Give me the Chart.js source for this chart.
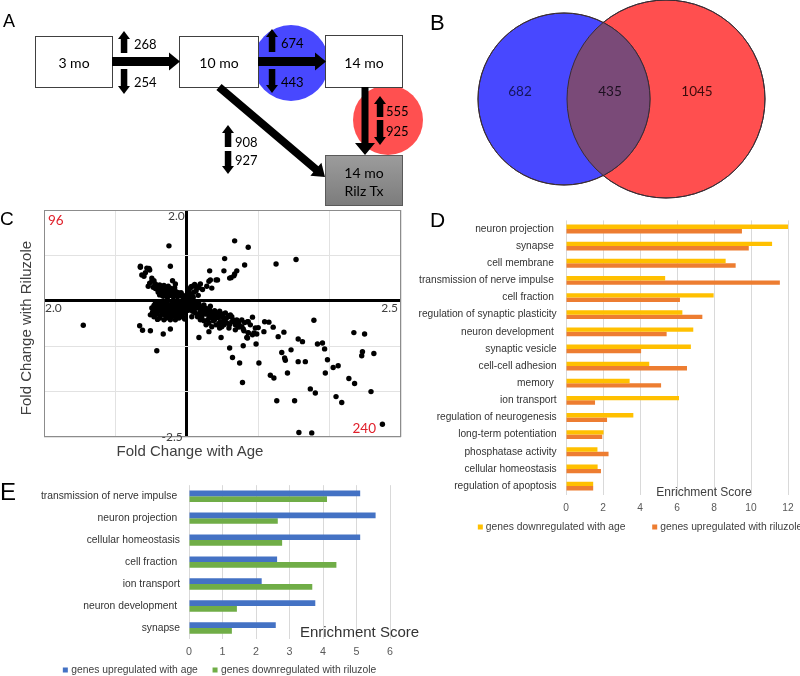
<!DOCTYPE html>
<html>
<head>
<meta charset="utf-8">
<title>Gene expression with age and riluzole</title>
<script src="https://cdn.jsdelivr.net/npm/chart.js@4.4.1/dist/chart.umd.min.js"></script>
<style>
  html, body { margin: 0; padding: 0; background: #fff; }
  body { position: relative; width: 800px; height: 676px; overflow: hidden;
         font-family: "Liberation Sans", Arial, sans-serif; }
  canvas, svg, .txt { position: absolute; }
  .txt { line-height: 1; color: #000; white-space: nowrap; }
  .axis-title { font-size: 15px; line-height: 18px; color: #404040; text-align: center; }
</style>
</head>
<body>
<canvas id="chartC" width="420" height="246" style="left:0;top:200px"></canvas>
<canvas id="chartD" width="480" height="340" style="left:400px;top:205px"></canvas>
<canvas id="chartE" width="440" height="206" style="left:0;top:470px"></canvas>
<canvas id="venn" width="380" height="200" style="left:420px;top:0"></canvas>
<svg id="diagram" width="430" height="212" style="left:0;top:0"></svg>

<div class="txt axis-title" style="left:-93.8px;top:319px;width:240px;transform:rotate(-90deg)">Fold Change with Riluzole</div>
<div class="txt axis-title" style="left:90px;top:441.5px;width:200px">Fold Change with Age</div>

<div class="txt" style="left:3px;top:11.8px;font-size:18px">A</div>
<div class="txt" style="left:430px;top:12.4px;font-size:22px">B</div>
<div class="txt" style="left:0;top:209.4px;font-size:19px">C</div>
<div class="txt" style="left:430px;top:208.9px;font-size:21px">D</div>
<div class="txt" style="left:0;top:479.7px;font-size:24px">E</div>

<script>
// ---------- data ----------
// panel A: number of genes up / down for each comparison
const stages = ['3 mo', '10 mo', '14 mo', '14 mo|Rilz Tx'];
const upCounts = [268, 674, 555, 908];
const downCounts = [254, 443, 925, 927];

// panel B: overlap of gene sets
const vennSets = ['changed with age', 'changed with riluzole'];
const vennOnly = [682, 1045];
const vennShared = 435;

// panel C: fold change per gene
const foldAge = [
  -0.25, -0.23, -0.65, -0.53, -1.45, -0.66, -0.62, -0.51, -0.33, -0.23, -0.42,
  0.67, 0.86, 0.53, 0.81, 1.25, 1.53, 0.32, 0.52, 0.70, 0.62, 0.66, 0.43,
  0.17, 0.31, 0.48, 0.60, 0.64, 0.74, 0.79, 0.78, 0.84, 0.86, 0.94, 0.98, 0.97, 1.00, 1.08, 1.09, 1.15, 1.21, 1.28, 1.36, 1.01, 1.17, 1.22, 1.26, 1.33, 1.37, 1.38, 1.41, 1.46, 1.56, 1.62, 1.56, 1.66, 1.51, 1.57, 1.75, 1.78, 1.83, 1.90, 1.93, 1.97, 1.94, 2.05, 2.12, 2.09, 2.17, 1.73, 1.80, 2.27, 2.35, 2.34, 2.49, 2.46, 2.45, 2.62, 2.58, 2.74,
  0.60, 0.65, 0.72, 0.77, 0.81, 0.86, 0.92, 0.85,
  -0.65, -0.56, -0.52, -0.63, -0.60, -0.49, -0.46, -0.52, -0.54, -0.44, -0.42, -0.38, -0.35, -0.32, -0.30, -0.26, -0.23, -0.21, -0.18, -0.16, -0.14, -0.11, -0.37, -0.35, -0.31, -0.28, -0.25, -0.21, -0.20, -0.17, -0.38, -0.35, -0.30, -0.26, -0.23, -0.18, -0.14, -0.09, -0.07, -0.04, -0.42, -0.49, -0.16,
  0.03, 0.05, 0.08, 0.12, 0.14, 0.17, 0.04, 0.07, 0.10, 0.02, 0.31, 0.33, 0.28, 0.35, 0.41, 0.67, 0.60,
  -0.49, -0.45, -0.42, -0.37, -0.35, -0.31, -0.28, -0.24, -0.21, -0.17, -0.14, -0.10, -0.07, -0.04, -0.32, -0.29, -0.25, -0.21, -0.18, -0.15, -0.11, -0.07, -0.04, -0.35, -0.31, -0.26, -0.21, -0.16, -0.11, -0.06, -0.51, -0.46, -0.42, -0.38, -0.23, -0.32, -0.16, -0.09, -0.04, -0.40, -0.48, -0.44, -0.39, -0.28, -0.20, -0.12, -0.09,
  0.03, 0.07, 0.10, 0.13, 0.17, 0.05, 0.10, 0.14, 0.18, 0.21, 0.25, 0.28, 0.32, 0.35, 0.39, 0.42, 0.46, 0.49, 0.54, 0.58, 0.61, 0.12, 0.17, 0.21, 0.26, 0.31, 0.35, 0.39, 0.44, 0.47, 0.52, 0.56, 0.63, 0.68, 0.73, 0.77, 0.85, 0.89, 0.96, 0.24, 0.31, 0.41, 0.49, 0.59, 0.68, 0.80, 0.86, 0.92, 0.07, 0.19, 0.35, 0.27, 0.04, 0.08, 0.24, 0.33, 0.40, 0.52, 0.63, 0.70,
  -0.47, -0.44, -0.40, -0.36, -0.33, -0.29, -0.27, -0.24, -0.22, -0.19, -0.15, -0.12, -0.10, -0.08, -0.06, -0.40, -0.34, -0.28, -0.24, -0.19, -0.13, -0.33, -0.27, -0.45, -0.58,
  -0.46, -0.41, -0.36, -0.33, -0.30, -0.27, -0.23, -0.19, -0.13, -0.08, -0.05, -0.02, -0.44, -0.37, -0.34, -0.27, -0.18, -0.14, -0.09, -0.03, -0.41, -0.29, -0.24, -0.13, -0.06,
  0.02, 0.06, 0.09, 0.12, 0.15, 0.19, 0.23, 0.27, 0.30, 0.34, 0.37, 0.41, 0.44, 0.48, 0.51, 0.55, 0.02, 0.08, 0.15, 0.22, 0.29, 0.37, 0.45, 0.53, 0.60, 0.66, 0.72, 0.79, 0.14, 0.46,
  0.04, 0.09, 0.13, 0.06, 0.11, 0.19, 0.22, 0.16
];
const foldRiluzole = [
  1.21, 0.76, 0.76, 0.71, -0.54, -0.55, -0.65, -0.66, -0.73, -0.62, -1.10,
  1.32, 1.18, 0.93, 0.79, 0.81, 0.91, 0.66, 0.66, 0.66, 0.51, 0.55, 0.46,
  -0.81, -0.68, -0.81, -1.04, -1.25, -1.37, -0.99, -1.80, -0.81, -0.70, -0.71, -0.73, -0.95, -0.59, -0.68, -0.46, -0.47, -0.58, -0.79, -0.69, -1.37, -1.64, -1.70, -2.20, -1.14, -1.26, -1.31, -1.59, -1.08, -0.84, -0.90, -1.34, -1.34, -2.20, -2.90, -2.91, -0.43, -0.95, -0.93, -1.06, -1.30, -1.59, -1.47, -1.43, -2.11, -2.24, -1.94, -2.03, -1.71, -1.82, -0.70, -0.73, -1.12, -1.21, -1.16, -2.00, -2.72,
  -0.33, -0.42, -0.46, -0.42, -0.48, -0.46, -0.36, -0.82,
  0.74, 0.72, 0.68, 0.57, 0.54, 0.50, 0.44, 0.39, 0.32, 0.37, 0.32, 0.35, 0.29, 0.34, 0.28, 0.32, 0.28, 0.24, 0.21, 0.19, 0.17, 0.15, 0.24, 0.21, 0.22, 0.19, 0.24, 0.17, 0.44, 0.29, 0.13, 0.13, 0.15, 0.13, 0.12, 0.13, 0.13, 0.15, 0.10, 0.06, 0.26, 0.43, 0.37,
  0.24, 0.28, 0.32, 0.34, 0.28, 0.29, 0.17, 0.13, 0.19, 0.10, 0.43, 0.46, 0.32, 0.28, 0.46, 0.59, 0.50,
  -0.16, -0.20, -0.15, -0.09, -0.05, -0.07, -0.03, -0.09, -0.05, -0.01, -0.07, -0.03, -0.05, -0.09, -0.16, -0.22, -0.16, -0.20, -0.15, -0.20, -0.16, -0.23, -0.27, -0.27, -0.31, -0.29, -0.35, -0.32, -0.38, -0.35, -0.31, -0.35, -0.29, -0.38, -0.42, -0.42, -0.42, -0.27, -0.18, -0.22, -0.25, -0.05, -0.12, -0.12, -0.25, -0.29, -0.12,
  -0.03, -0.07, -0.05, -0.09, -0.07, -0.16, -0.20, -0.16, -0.15, -0.20, -0.16, -0.23, -0.20, -0.25, -0.22, -0.27, -0.23, -0.29, -0.27, -0.35, -0.31, -0.27, -0.31, -0.35, -0.29, -0.35, -0.38, -0.42, -0.37, -0.46, -0.42, -0.49, -0.46, -0.53, -0.49, -0.57, -0.46, -0.53, -0.60, -0.44, -0.49, -0.53, -0.57, -0.60, -0.64, -0.66, -0.71, -0.75, -0.35, -0.42, -0.57, -0.53, 0.02, -0.12, -0.09, -0.12, -0.35, -0.53, -0.35, -0.42,
  0.30, 0.27, 0.30, 0.31, 0.26, 0.25, 0.23, 0.20, 0.18, 0.16, 0.20, 0.18, 0.12, 0.18, 0.13, 0.19, 0.17, 0.10, 0.16, 0.09, 0.09, 0.10, 0.08, 0.33, 0.62,
  -0.10, -0.03, -0.19, -0.11, -0.14, -0.19, -0.12, -0.09, -0.12, -0.19, -0.13, -0.03, -0.30, -0.33, -0.23, -0.36, -0.28, -0.36, -0.32, -0.40, -0.41, -0.38, -0.26, -0.24, -0.06,
  -0.10, -0.12, -0.02, -0.13, -0.11, -0.24, -0.26, -0.17, -0.27, -0.29, -0.30, -0.32, -0.29, -0.34, -0.36, -0.39, -0.21, -0.23, -0.35, -0.13, -0.43, -0.44, -0.50, -0.47, -0.52, -0.45, -0.58, -0.62, -0.02, -0.60,
  0.05, 0.08, 0.22, 0.31, 0.36, 0.37, 0.25, 0.12
];
const quadrantCounts = [96, 240];
const ageTickLabels = ['2.0', '2.5'];        // left end, right end
const riluzoleTickLabels = ['2.0', '-2.5'];  // top end, bottom end

// panel D
const termsD = ['neuron projection ', 'synapse ', 'cell membrane ', 'transmission of nerve impulse ', 'cell fraction ',
  'regulation of synaptic plasticity', 'neuron development ', 'synaptic vesicle', 'cell-cell adhesion', 'memory ',
  'ion transport', 'regulation of neurogenesis', 'long-term potentiation', 'phosphatase activity',
  'cellular homeostasis', 'regulation of apoptosis'];
const downWithAge = [12.05, 11.14, 8.63, 5.36, 7.98, 6.29, 6.88, 6.75, 4.50, 3.44, 6.11, 3.64, 2.03, 1.70, 1.71, 1.47];
const upWithRiluzole = [9.51, 9.88, 9.17, 11.56, 6.16, 7.37, 5.44, 4.06, 6.54, 5.14, 1.57, 2.22, 1.96, 2.30, 1.89, 1.47];
const ticksD = [0, 2, 4, 6, 8, 10, 12];

// panel E
const termsE = ['transmission of nerve impulse ', 'neuron projection ', 'cellular homeostasis', 'cell fraction ',
  'ion transport', 'neuron development ', 'synapse'];
const upWithAge = [5.11, 5.57, 5.11, 2.63, 2.17, 3.77, 2.59];
const downWithRiluzole = [4.12, 2.65, 2.78, 4.40, 3.68, 1.43, 1.28];
const ticksE = [0, 1, 2, 3, 4, 5, 6];

// ---------- panel A: flow diagram ----------
const boxLayout = [
  {x: 35.5, y: 36.5, w: 77, h: 51},
  {x: 179.5, y: 36.5, w: 79, h: 51},
  {x: 325.5, y: 35.5, w: 77, h: 52},
  {x: 325.5, y: 155.5, w: 77, h: 50, shaded: true}
];
const flowArrows = [
  [112, 61.5, 180, 61.5, 9, 18, 11],
  [258, 61.5, 326, 61.5, 9, 18, 11],
  [365, 87, 365, 155, 7, 20, 12],
  [219, 87, 325, 177, 8, 17, 12]
];
const countLayout = [
  {ax: 124, up: [53, 31], down: [69, 94], tx: 134, ty: [43.5, 81.5]},
  {ax: 272, up: [52, 29], down: [69, 93], tx: 281, ty: [43, 81.5]},
  {ax: 380, up: [117, 96], down: [120, 145], tx: 386, ty: [111, 130.5]},
  {ax: 228, up: [147, 125], down: [151, 174], tx: 235, ty: [142, 160]}
];

function arrow(x1, y1, x2, y2, shaft, headW, headL) {
  const len = Math.hypot(x2 - x1, y2 - y1);
  const ux = (x2 - x1) / len, uy = (y2 - y1) / len;
  const nx = -uy, ny = ux;
  const bx = x2 - ux * headL, by = y2 - uy * headL;
  const s = shaft / 2, h = headW / 2;
  const pts = [
    [x1 + nx * s, y1 + ny * s], [bx + nx * s, by + ny * s], [bx + nx * h, by + ny * h], [x2, y2],
    [bx - nx * h, by - ny * h], [bx - nx * s, by - ny * s], [x1 - nx * s, y1 - ny * s]
  ];
  return `<polygon points="${pts.map(p => p[0].toFixed(1) + ',' + p[1].toFixed(1)).join(' ')}" fill="#000"/>`;
}

let svg = `<defs><linearGradient id="rilzFill" x1="0" y1="0" x2="0" y2="1">
  <stop offset="0" stop-color="#9c9c9c"/><stop offset="1" stop-color="#7c7c7c"/></linearGradient></defs>
  <circle cx="291" cy="63" r="38" fill="#4848ff"/>
  <circle cx="388" cy="120" r="35" fill="#ff5050"/>`;
stages.forEach((name, i) => {
  const b = boxLayout[i];
  svg += `<rect x="${b.x}" y="${b.y}" width="${b.w}" height="${b.h}" fill="${b.shaded ? 'url(#rilzFill)' : '#fff'}" stroke="${b.shaded ? '#5a5a5a' : '#404040'}"/>`;
  const lines = name.split('|');
  const cx = b.x + b.w / 2, cy = b.y + b.h / 2 + 0.5;
  lines.forEach((ln, j) => {
    const y = lines.length === 1 ? cy : cy - 9 + j * 18.5;
    svg += `<text x="${cx}" y="${y}" font-family="Lato, sans-serif" font-size="14" text-anchor="middle" dominant-baseline="central">${ln}</text>`;
  });
});
flowArrows.forEach(a => { svg += arrow(...a); });
countLayout.forEach((c, i) => {
  svg += arrow(c.ax, c.up[0], c.ax, c.up[1], 6.5, 12, 8);
  svg += arrow(c.ax, c.down[0], c.ax, c.down[1], 6.5, 12, 8);
  svg += `<text x="${c.tx}" y="${c.ty[0]}" font-family="Lato, sans-serif" font-size="13" dominant-baseline="central">${upCounts[i]}</text>`;
  svg += `<text x="${c.tx}" y="${c.ty[1]}" font-family="Lato, sans-serif" font-size="13" dominant-baseline="central">${downCounts[i]}</text>`;
});
document.getElementById('diagram').innerHTML = svg;

// ---------- shared chart bits ----------
Chart.defaults.font.family = '"Liberation Sans", Arial, sans-serif';
Chart.defaults.animation = false;
Chart.defaults.events = [];

function makeLegend(cfg) {
  return {
    id: 'bottomLegend',
    afterDraw(chart) {
      const {ctx, chartArea} = chart;
      const sets = chart.data.datasets;
      ctx.save();
      ctx.font = cfg.size + 'px "Liberation Sans", Arial, sans-serif';
      const widths = sets.map(ds => cfg.box + cfg.textGap + ctx.measureText(ds.label).width);
      const total = widths.reduce((a, b) => a + b, 0) + cfg.gap * (sets.length - 1);
      let x = cfg.centerX - total / 2;
      const y = chartArea.bottom + cfg.offsetY;
      ctx.textBaseline = 'middle';
      sets.forEach((ds, i) => {
        ctx.fillStyle = ds.backgroundColor;
        ctx.fillRect(x, y - cfg.box / 2, cfg.box, cfg.box);
        ctx.fillStyle = cfg.color;
        ctx.fillText(ds.label, x + cfg.box + cfg.textGap, y);
        x += widths[i] + cfg.gap;
      });
      ctx.restore();
    }
  };
}

function makeCaption(cfg) {
  return {
    id: 'scaleCaption',
    afterDraw(chart) {
      const {ctx, chartArea, scales} = chart;
      ctx.save();
      ctx.font = cfg.size + 'px "Liberation Sans", Arial, sans-serif';
      ctx.fillStyle = cfg.color;
      ctx.textAlign = 'center';
      ctx.textBaseline = 'middle';
      ctx.fillText(cfg.text, scales.x.getPixelForValue(cfg.value), chartArea.bottom + cfg.offsetY);
      ctx.restore();
    }
  };
}

// ---------- panel B: venn ----------
const vennCenters = [{x: 144, y: 99}, {x: 246, y: 99}];
const vennColors = ['#4848ff', '#ff4f4f'];
const vennPxPerRootGene = 2.573;
const vennLabelX = [100, 190, 277];

const vennOverlap = {
  id: 'vennOverlap',
  afterDatasetsDraw(chart) {
    const {ctx, scales} = chart;
    const [a, b] = chart.data.datasets.map((ds, i) => chart.getDatasetMeta(i).data[0]);
    const circle = el => { ctx.beginPath(); ctx.arc(el.x, el.y, el.options.radius, 0, Math.PI * 2); };
    ctx.save();
    circle(a); ctx.clip();
    circle(b); ctx.fillStyle = '#7a4a78'; ctx.fill();
    ctx.restore();
    ctx.save();
    ctx.strokeStyle = '#3a2c34';
    ctx.lineWidth = 1;
    circle(a); ctx.stroke();
    circle(b); ctx.stroke();
    ctx.font = '13.5px Lato, sans-serif';
    ctx.textAlign = 'center';
    ctx.textBaseline = 'middle';
    const values = [vennOnly[0], vennShared, vennOnly[1]];
    const colors = ['#16165a', '#1c1020', '#3c0c0c'];
    values.forEach((v, i) => {
      ctx.fillStyle = colors[i];
      ctx.fillText(String(v), scales.x.getPixelForValue(vennLabelX[i]), scales.y.getPixelForValue(92));
    });
    ctx.restore();
  }
};

new Chart(document.getElementById('venn'), {
  type: 'bubble',
  data: {
    datasets: vennSets.map((name, i) => ({
      label: name,
      data: [{x: vennCenters[i].x, y: vennCenters[i].y, r: vennPxPerRootGene * Math.sqrt(vennOnly[i] + vennShared)}],
      backgroundColor: vennColors[i],
      borderColor: '#3a2c34',
      borderWidth: 1
    }))
  },
  options: {
    responsive: false,
    layout: {padding: 0, autoPadding: false},
    plugins: {legend: {display: false}, tooltip: {enabled: false}},
    scales: {
      x: {display: false, min: 0, max: 380},
      y: {display: false, min: 0, max: 200, reverse: true}
    }
  },
  plugins: [vennOverlap]
});

// ---------- panel C: scatter ----------
const gridColor = c => (c.tick && c.tick.value === 0) ? '#000' : '#e2e2e2';
const gridWidth = c => (c.tick && c.tick.value === 0) ? 3 : 1;

const scatterDecor = {
  id: 'scatterDecor',
  afterDraw(chart) {
    const {ctx, chartArea: a, scales: {x, y}} = chart;
    const x0 = x.getPixelForValue(0), y0 = y.getPixelForValue(0);
    ctx.save();
    ctx.strokeStyle = '#8c8c8c';
    ctx.lineWidth = 1;
    ctx.strokeRect(a.left + 0.5, a.top + 0.5, a.width - 1, a.height - 1);
    ctx.font = '12px Lato, sans-serif';
    ctx.fillStyle = '#404040';
    ctx.textBaseline = 'middle';
    ctx.textAlign = 'right';
    ctx.fillText(riluzoleTickLabels[0], x0 - 2, a.top + 6);
    ctx.fillText(riluzoleTickLabels[1], x0 - 4, a.bottom);
    ctx.textAlign = 'left';
    ctx.fillText(ageTickLabels[0], a.left + 1, y0 + 7);
    ctx.textAlign = 'right';
    ctx.fillText(ageTickLabels[1], a.right - 3, y0 + 7);
    ctx.font = '13.5px Lato, sans-serif';
    ctx.fillStyle = '#e0202b';
    ctx.textAlign = 'left';
    ctx.fillText(String(quadrantCounts[0]), a.left + 4, a.top + 11);
    ctx.textAlign = 'right';
    ctx.fillText(String(quadrantCounts[1]), a.right - 25, a.bottom - 8);
    ctx.restore();
  }
};

new Chart(document.getElementById('chartC'), {
  type: 'scatter',
  data: {
    datasets: [{
      data: foldAge.map((v, i) => ({x: v, y: foldRiluzole[i]})),
      backgroundColor: '#000',
      borderWidth: 0,
      pointRadius: 2.7
    }]
  },
  options: {
    responsive: false,
    layout: {padding: {left: 44, right: 19, top: 10, bottom: 9}, autoPadding: false},
    plugins: {legend: {display: false}, tooltip: {enabled: false}},
    scales: {
      x: {
        min: -2, max: 3,
        ticks: {display: false, stepSize: 1},
        grid: {drawTicks: false, color: gridColor, lineWidth: gridWidth},
        border: {display: false},
        afterFit(s) { s.height = 0; }
      },
      y: {
        min: -3, max: 2,
        ticks: {display: false, stepSize: 1},
        grid: {drawTicks: false, color: gridColor, lineWidth: gridWidth},
        border: {display: false},
        afterFit(s) { s.width = 0; }
      }
    }
  },
  plugins: [scatterDecor]
});

// ---------- panel D ----------
new Chart(document.getElementById('chartD'), {
  type: 'bar',
  data: {
    labels: termsD,
    datasets: [
      {label: 'genes downregulated with age', data: downWithAge, backgroundColor: '#ffc000'},
      {label: 'genes upregulated with riluzole', data: upWithRiluzole, backgroundColor: '#ed7d31'}
    ]
  },
  options: {
    indexAxis: 'y',
    responsive: false,
    layout: {padding: {left: 0, right: 92, top: 9, bottom: 30.4}},
    datasets: {bar: {categoryPercentage: 0.513, barPercentage: 1}},
    plugins: {legend: {display: false}, tooltip: {enabled: false}},
    scales: {
      x: {
        min: 0, max: 12,
        afterBuildTicks(s) { s.ticks = ticksD.map(v => ({value: v})); },
        ticks: {padding: 7, color: '#595959', font: {size: 10.2}},
        grid: {color: '#d9d9d9', drawTicks: false},
        border: {display: false},
        afterFit(s) { s.height = 20; }
      },
      y: {
        ticks: {padding: 9.3, color: '#333', font: {size: 10.2}, autoSkip: false},
        grid: {display: false, drawTicks: false},
        border: {display: false},
        afterFit(s) { s.width = 166; }
      }
    }
  },
  plugins: [
    makeLegend({centerX: 240, offsetY: 32.4, size: 10.3, box: 5, textGap: 3, gap: 26.7, color: '#404040'}),
    makeCaption({text: 'Enrichment Score', value: 7.46, offsetY: -1.9, size: 12, color: '#404040'})
  ]
});

// ---------- panel E ----------
new Chart(document.getElementById('chartE'), {
  type: 'bar',
  data: {
    labels: termsE,
    datasets: [
      {label: 'genes upregulated with age', data: upWithAge, backgroundColor: '#4472c4'},
      {label: 'genes downregulated with riluzole', data: downWithRiluzole, backgroundColor: '#70ad47'}
    ]
  },
  options: {
    indexAxis: 'y',
    responsive: false,
    layout: {padding: {left: 0, right: 50, top: 7.8, bottom: 17}},
    datasets: {bar: {categoryPercentage: 0.52, barPercentage: 1}},
    plugins: {legend: {display: false}, tooltip: {enabled: false}},
    scales: {
      x: {
        min: 0, max: 6,
        afterBuildTicks(s) { s.ticks = ticksE.map(v => ({value: v})); },
        ticks: {padding: 7, color: '#595959', font: {size: 10.7}},
        grid: {color: '#d9d9d9', drawTicks: false},
        border: {display: false},
        afterFit(s) { s.height = 20; }
      },
      y: {
        ticks: {padding: 9, color: '#333', font: {size: 10.3}, autoSkip: false},
        grid: {display: false, drawTicks: false},
        border: {display: false},
        afterFit(s) { s.width = 189; }
      }
    }
  },
  plugins: [
    makeLegend({centerX: 219.5, offsetY: 31, size: 10.3, box: 5, textGap: 3.5, gap: 14.7, color: '#404040'}),
    makeCaption({text: 'Enrichment Score', value: 5.09, offsetY: -6, size: 15, color: '#333'})
  ]
});
</script>
</body>
</html>
